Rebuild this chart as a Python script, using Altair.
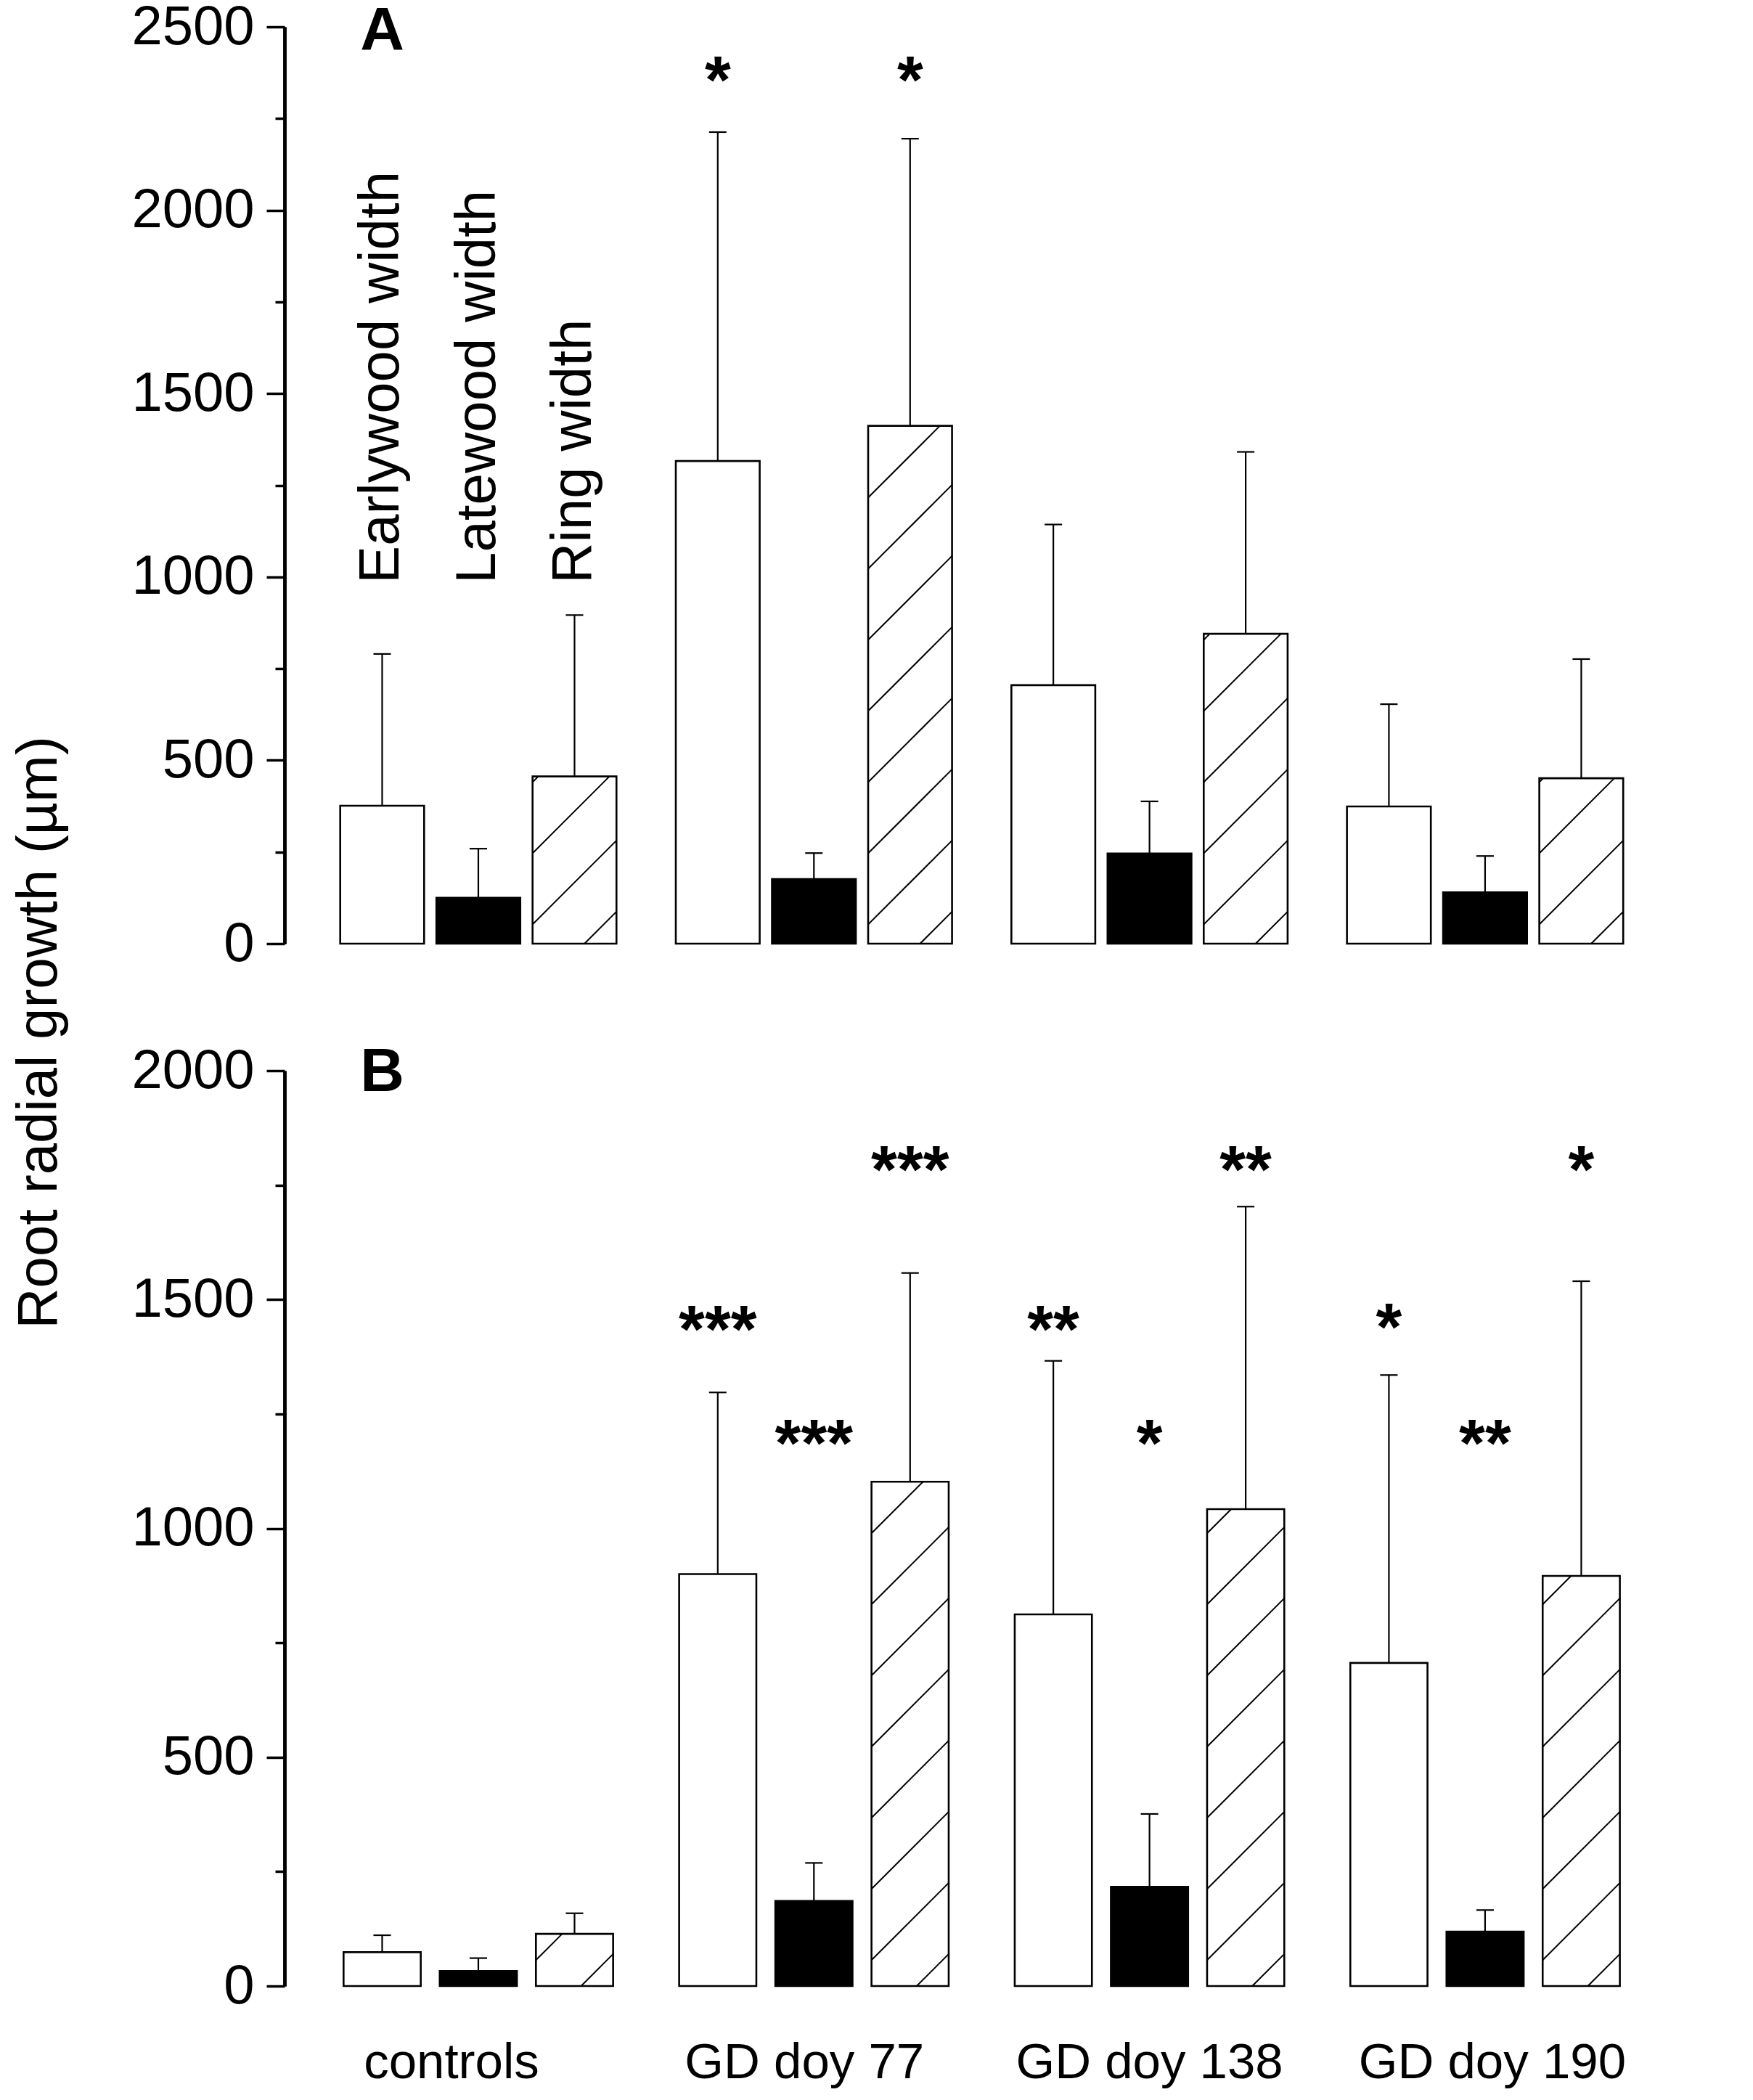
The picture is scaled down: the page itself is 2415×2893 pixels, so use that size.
import altair as alt
import pandas as pd

# ---------------- data ----------------
groups = ["controls", "GD doy 77", "GD doy 138", "GD doy 190"]
series = ["Earlywood width", "Latewood width", "Ring width"]

# Panel A (means and SD, µm)
a_early = [376, 1316, 705, 374]
a_early_sd = [414, 897, 438, 279]
a_late = [125, 176, 246, 140]
a_late_sd = [134, 71, 142, 99]
a_ring = [456, 1412, 845, 451]
a_ring_sd = [440, 783, 496, 325]

# Panel B
b_early = [74, 900, 812, 706]
b_early_sd = [37, 397, 554, 629]
b_late = [33, 186, 217, 119]
b_late_sd = [28, 83, 159, 47]
b_ring = [114, 1102, 1042, 896]
b_ring_sd = [45, 456, 661, 644]

# significance marks
a_star_group = ["GD doy 77", "GD doy 77"]
a_star_series = ["Earlywood width", "Ring width"]
a_star_text = ["*", "*"]
a_star_y = [2376, 2376]

b_star_group = ["GD doy 77"] * 3 + ["GD doy 138"] * 3 + ["GD doy 190"] * 3
b_star_series = series * 3
b_star_text = ["***", "***", "***", "**", "*", "**", "*", "**", "*"]
b_star_y = [1452, 1203, 1800, 1452, 1203, 1800, 1456, 1203, 1800]

panel_letters = ["A", "B"]
letter_y = [2437, 1955]
series_label_y = 982

# ---------------- layout / style ----------------
FONT = "Liberation Sans"
X_DOMAIN = [0.4225, 4.714]
PLOT_W = 1984
PXU = PLOT_W / (X_DOMAIN[1] - X_DOMAIN[0])  # px per x unit
OFFSET = 0.2866
CAP_W = 0.052
HATCH_S = 98.0
HATCH_PHASE = 0.45
fills = ["#ffffff", "#000000", "#ffffff"]
label_shift_px = [-37, -13, 0, 10]


def bar_frame(early, esd, late, lsd, ring, rsd, bw):
    rows = []
    vals = [(early, esd), (late, lsd), (ring, rsd)]
    for gi, g in enumerate(groups):
        for si, s in enumerate(series):
            v, sd = vals[si][0][gi], vals[si][1][gi]
            c = gi + 1 + (si - 1) * OFFSET
            rows.append(dict(group=g, series=s, center=c, x=c - bw / 2, x2=c + bw / 2,
                             value=v, top=v + sd, base=0,
                             capl=c - CAP_W / 2, capr=c + CAP_W / 2))
    return pd.DataFrame(rows)


def hatch_frame(df, bw, pyu):
    rows = []
    W = bw * PXU
    for _, r in df[df.series == "Ring width"].iterrows():
        H = r.value * pyu
        k = 0
        while True:
            hr = (k + HATCH_PHASE) * HATCH_S
            if hr >= H + W:
                break
            b = hr - W
            xs = max(0.0, -b)
            xe = min(W, H - b)
            if xe > xs:
                rows.append(dict(hx=r.x + xs / PXU, hx2=r.x + xe / PXU,
                                 hy=(xs + b) / pyu, hy2=(xe + b) / pyu))
            k += 1
    return pd.DataFrame(rows)


def star_frame(df, sg, ss, st, sy):
    rows = []
    for g, s, t, y in zip(sg, ss, st, sy):
        c = df[(df.group == g) & (df.series == s)].center.iloc[0]
        rows.append(dict(center=c, y=y, text=t))
    return pd.DataFrame(rows)


def panel(df, ymax, height, bw, stars, letter, ly, y_title, extra=None):
    xs = alt.Scale(domain=X_DOMAIN, nice=False, zero=False)
    ys = alt.Scale(domain=[0, ymax], nice=False, zero=True)
    pyu = height / ymax
    major = list(range(0, ymax + 1, 500))
    minor = list(range(250, ymax, 500))

    xaxis = alt.Axis(labels=False, ticks=False, domainWidth=4.5, grid=False, title=None)

    yaxis_kw = dict(values=major, format="d", tickSize=25, tickWidth=3.5, domainWidth=4.5,
                    labelFontSize=76, labelPadding=17, grid=False, orient="left",
                    labelFont=FONT, labelColor="black")
    if y_title:
        yaxis = alt.Axis(title=y_title, titleFontSize=78, titleFontWeight="normal",
                         titleX=-338, titleY=1385, titleAngle=270, titleAlign="center",
                         titleBaseline="middle", titleFont=FONT, titleColor="black", **yaxis_kw)
    else:
        yaxis = alt.Axis(title=None, **yaxis_kw)

    bars = alt.Chart(df).mark_rect(stroke="black", strokeWidth=2.6).encode(
        x=alt.X("x:Q", scale=xs, axis=xaxis),
        x2="x2:Q",
        y=alt.Y("value:Q", scale=ys, axis=yaxis),
        y2="base:Q",
        fill=alt.Fill("series:N", scale=alt.Scale(domain=series, range=fills), legend=None),
    )

    hdf = hatch_frame(df, bw, pyu)
    hatch = alt.Chart(hdf).mark_rule(color="black", strokeWidth=2.0).encode(
        x=alt.X("hx:Q", scale=xs, axis=None), x2="hx2:Q",
        y=alt.Y("hy:Q", scale=ys, axis=None), y2="hy2:Q",
    )

    err = alt.Chart(df).mark_rule(color="black", strokeWidth=2.2).encode(
        x=alt.X("center:Q", scale=xs, axis=None),
        y=alt.Y("value:Q", scale=ys,
                axis=alt.Axis(values=minor, labels=False, tickSize=13, tickWidth=3.5,
                              domainWidth=4.5, grid=False, title=None, orient="left")),
        y2="top:Q",
    )
    caps = alt.Chart(df).mark_rule(color="black", strokeWidth=2.2).encode(
        x=alt.X("capl:Q", scale=xs, axis=None), x2="capr:Q",
        y=alt.Y("top:Q", scale=ys, axis=None),
    )

    st = alt.Chart(stars).mark_text(font=FONT, fontSize=92, fontWeight="bold",
                                    baseline="alphabetic", dy=42, color="black").encode(
        x=alt.X("center:Q", scale=xs, axis=None),
        y=alt.Y("y:Q", scale=ys, axis=None),
        text="text:N",
    )

    ctrl_early = df[(df.group == groups[0]) & (df.series == series[0])].center.iloc[0]
    ldf = pd.DataFrame([dict(center=ctrl_early, y=ly, text=letter)])
    let = alt.Chart(ldf).mark_text(font=FONT, fontSize=84, fontWeight="bold",
                                   baseline="alphabetic", align="center", color="black").encode(
        x=alt.X("center:Q", scale=xs, axis=None),
        y=alt.Y("y:Q", scale=ys, axis=None),
        text="text:N",
    )

    layers = [bars, hatch, err, caps, st, let]
    if extra is not None:
        layers.append(extra(xs, ys))
    return alt.layer(*layers).resolve_axis(y="independent").properties(width=PLOT_W, height=height)


dfa = bar_frame(a_early, a_early_sd, a_late, a_late_sd, a_ring, a_ring_sd, 0.25)
dfb = bar_frame(b_early, b_early_sd, b_late, b_late_sd, b_ring, b_ring_sd, 0.23)
sta = star_frame(dfa, a_star_group, a_star_series, a_star_text, a_star_y)
stb = star_frame(dfb, b_star_group, b_star_series, b_star_text, b_star_y)

ctrl = dfa[dfa.group == groups[0]]
sl_df = pd.DataFrame(dict(center=list(ctrl.center), y=[series_label_y] * 3, text=series))


def series_labels(xs, ys):
    return alt.Chart(sl_df).mark_text(font=FONT, fontSize=78, angle=270, align="left",
                                      baseline="middle", color="black").encode(
        x=alt.X("center:Q", scale=xs, axis=None),
        y=alt.Y("y:Q", scale=ys, axis=None),
        text="text:N",
    )


cat_df = pd.DataFrame(dict(
    pos=[i + 1 + s / PXU for i, s in enumerate(label_shift_px)],
    base=[0] * len(groups),
    text=groups,
))


def category_labels(xs, ys):
    return alt.Chart(cat_df).mark_text(font=FONT, fontSize=69, align="center",
                                       baseline="alphabetic", dy=127, color="black").encode(
        x=alt.X("pos:Q", scale=xs, axis=None),
        y=alt.Y("base:Q", scale=ys, axis=None),
        text="text:N",
    )


pa = panel(dfa, 2500, 1263, 0.25, sta, panel_letters[0], letter_y[0],
           "Root radial growth (µm)", extra=series_labels)
pb = panel(dfb, 2000, 1261, 0.23, stb, panel_letters[1], letter_y[1], None,
           extra=category_labels)

chart = alt.vconcat(pa, pb, spacing=175, bounds="flush").properties(
    padding={"left": 7, "top": -9, "right": 5, "bottom": 5}
).configure_view(stroke=None).configure_axis(
    domainColor="black", tickColor="black", labelColor="black", titleColor="black"
)

chart.save("out.html", embed_options={"renderer": "svg", "actions": False})
